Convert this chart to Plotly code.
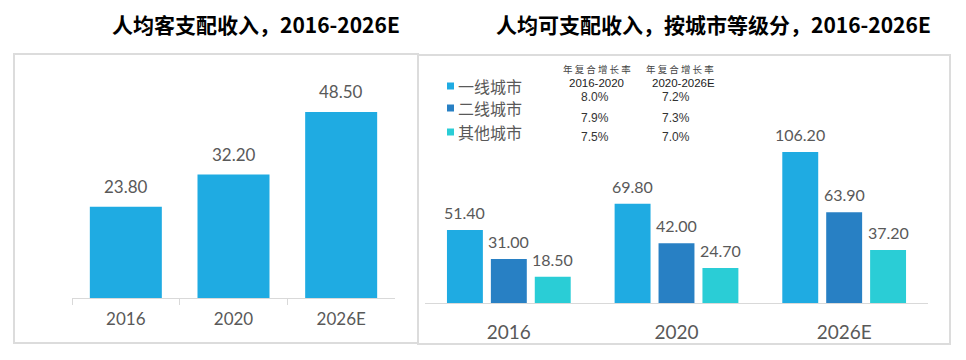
import plotly.graph_objects as go

# ---------------- data ----------------
years = ["2016", "2020", "2026E"]
income_all = [23.80, 32.20, 48.50]

tiers = ["一线城市", "二线城市", "其他城市"]
tier1 = [51.40, 69.80, 106.20]
tier2 = [31.00, 42.00, 63.90]
tier_other = [18.50, 24.70, 37.20]
tier_values = [tier1, tier2, tier_other]

cagr_header_1 = "2016-2020"
cagr_header_2 = "2020-2026E"
cagr_label = "年复合增长率"
cagr_16_20 = ["8.0%", "7.9%", "7.5%"]
cagr_20_26 = ["7.2%", "7.3%", "7.0%"]

title_left = "人均客支配收入，2016-2026E"
title_right = "人均可支配收入，按城市等级分，2016-2026E"

# ---------------- style ----------------
# the page body has an 8px default margin; size the figure so it fits the window
OFF = 8
W, H = 966 - OFF, 360 - 2 * OFF
c_single = "#1FABE2"
tier_colors = ["#1FABE2", "#2880C4", "#2ACDD6"]
grey_txt = "#595959"
box_col = "#DCDCDC"
num_font = "Lato"
cjk_font = "Noto Sans CJK SC"


def px_x(p):
    return (p - OFF) / W


def px_y(p):
    return 1 - (p - OFF) / H


fig = go.Figure()

# left chart
fig.add_trace(go.Bar(
    x=years, y=income_all, marker=dict(color=c_single, line=dict(width=0)),
    xaxis="x", yaxis="y", showlegend=False, hoverinfo="x+y",
    width=72 / 107.67,
))

# right chart
for i, (name, vals, col) in enumerate(zip(tiers, tier_values, tier_colors)):
    fig.add_trace(go.Bar(
        x=years, y=vals, name=name, marker=dict(color=col, line=dict(width=0)),
        xaxis="x2", yaxis="y2", showlegend=False,
        width=36 / 168, offset=(i - 1) * (44 / 168) - (36 / 168) / 2,
    ))

annotations = []
# data labels, left (category index positions on the category axis)
for j, v in enumerate(income_all):
    annotations.append(dict(
        x=j, y=v, xref="x", yref="y", text=f"{v:.2f}", showarrow=False,
        yanchor="bottom", yshift=8,
        font=dict(family=num_font, size=17, color=grey_txt),
    ))
# data labels, right
for i, vals in enumerate(tier_values):
    for j, v in enumerate(vals):
        annotations.append(dict(
            x=j, y=v, xref="x2", yref="y2", text=f"{v:.2f}", showarrow=False,
            yanchor="bottom", yshift=6, xshift=(i - 1) * 44,
            font=dict(family=num_font, size=16, color=grey_txt),
        ))

# titles
annotations.append(dict(
    x=px_x(256), y=px_y(24), xref="paper", yref="paper", text=f"<b>{title_left}</b>",
    showarrow=False, xanchor="center", yanchor="middle",
    font=dict(family=cjk_font, size=21, color="#000000"),
))
annotations.append(dict(
    x=px_x(713), y=px_y(24), xref="paper", yref="paper", text=f"<b>{title_right}</b>",
    showarrow=False, xanchor="center", yanchor="middle",
    font=dict(family=cjk_font, size=21, color="#000000"),
))

shapes = []
# legend (manual)
leg_y = [86, 108, 132]
for name, col, yy in zip(tiers, tier_colors, leg_y):
    shapes.append(dict(type="rect", xref="paper", yref="paper",
                       x0=px_x(447), x1=px_x(454), y0=px_y(yy + 3.5), y1=px_y(yy - 3.5),
                       fillcolor=col, line=dict(width=0)))
    annotations.append(dict(
        x=px_x(456), y=px_y(yy), xref="paper", yref="paper", text=name,
        showarrow=False, xanchor="left", yanchor="middle",
        font=dict(family=cjk_font, size=16, color=grey_txt),
    ))

# CAGR table
spaced_label = " ".join(cagr_label)
hdr_label_x = [597, 680]
hdr_x = [596, 683]
val_x = [595, 676]
for lx, hx, hdr in zip(hdr_label_x, hdr_x, [cagr_header_1, cagr_header_2]):
    annotations.append(dict(
        x=px_x(lx), y=px_y(69), xref="paper", yref="paper", text=spaced_label,
        showarrow=False, xanchor="center", yanchor="middle",
        font=dict(family=cjk_font, size=9.5, color="#444444"),
    ))
    annotations.append(dict(
        x=px_x(hx), y=px_y(83), xref="paper", yref="paper", text=hdr,
        showarrow=False, xanchor="center", yanchor="middle",
        font=dict(family="Liberation Sans", size=11.5, color="#222222"),
    ))
row_y = [97, 118, 137]
for vx, col_vals in zip(val_x, [cagr_16_20, cagr_20_26]):
    for yy, t in zip(row_y, col_vals):
        annotations.append(dict(
            x=px_x(vx), y=px_y(yy), xref="paper", yref="paper", text=t,
            showarrow=False, xanchor="center", yanchor="middle",
            font=dict(family="Liberation Sans", size=12, color="#333333"),
        ))

# panel boxes
shapes.append(dict(type="rect", xref="paper", yref="paper",
                   x0=px_x(14), x1=px_x(418), y0=px_y(343), y1=px_y(54),
                   line=dict(color=box_col, width=2), fillcolor="rgba(0,0,0,0)", layer="below"))
shapes.append(dict(type="rect", xref="paper", yref="paper",
                   x0=px_x(418), x1=px_x(950), y0=px_y(344), y1=px_y(55),
                   line=dict(color=box_col, width=2), fillcolor="rgba(0,0,0,0)", layer="below"))

fig.update_layout(
    width=W, height=H,
    margin=dict(l=0, r=0, t=0, b=0),
    paper_bgcolor="white", plot_bgcolor="white",
    barmode="group",
    bargap=0.33,
    showlegend=False,
    annotations=annotations,
    shapes=shapes,
    xaxis=dict(
        domain=[px_x(72), px_x(395)], anchor="y",
        type="category", range=[-0.5, 2.5], showgrid=False, zeroline=False,
        showline=True, linecolor="#D9D9D9", linewidth=1,
        ticks="outside", tickson="boundaries", ticklen=6, tickcolor="#D9D9D9",
        ticklabelstandoff=6,
        tickfont=dict(family=num_font, size=17, color=grey_txt),
    ),
    yaxis=dict(
        domain=[px_y(298), px_y(60)], anchor="x",
        range=[0, 238 / 3.835], visible=False,
    ),
    xaxis2=dict(
        domain=[px_x(425), px_x(928)], anchor="y2",
        type="category", range=[-0.5, 2.5], showgrid=False, zeroline=False,
        showline=True, linecolor="#D9D9D9", linewidth=1,
        ticks="", ticklabelstandoff=12,
        tickfont=dict(family=num_font, size=19, color=grey_txt),
    ),
    yaxis2=dict(
        domain=[px_y(303), px_y(60)], anchor="x2",
        range=[0, 243 / 1.422], visible=False,
    ),
)

fig.write_html("out.html")
